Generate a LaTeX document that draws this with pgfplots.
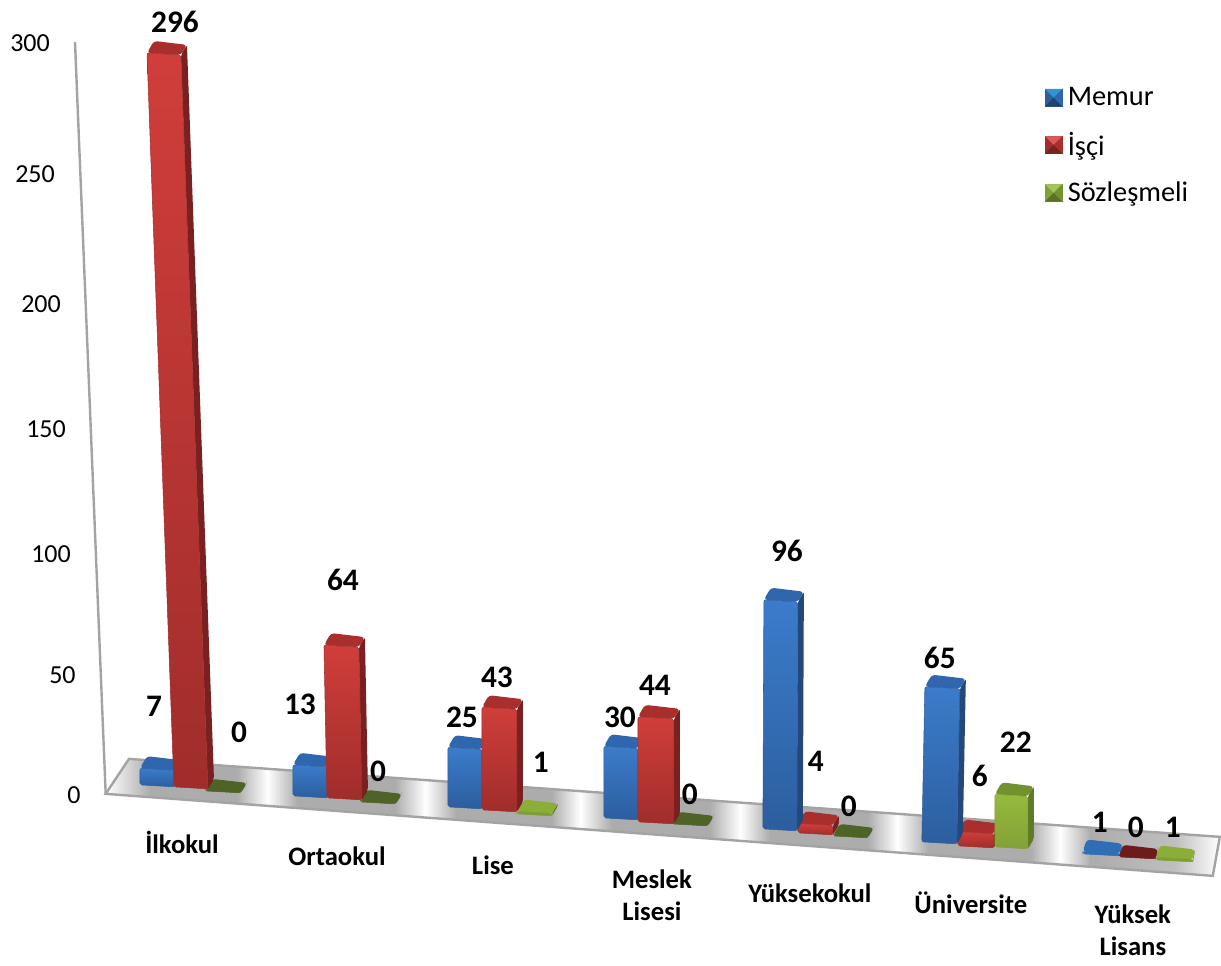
\documentclass[border=0pt]{standalone}
\usepackage{pgfplots}
\pgfplotsset{compat=1.18}
\usepackage{fontspec}
\setmainfont{Carlito}
% colours
\definecolor{bluetop}{HTML}{3B7CCB}\definecolor{bluebot}{HTML}{2C5E9E}\definecolor{blueside}{HTML}{24487A}\definecolor{bluecap}{HTML}{2F66AE}
\definecolor{redtop}{HTML}{D03E3B}\definecolor{redbot}{HTML}{A02D2B}\definecolor{redside}{HTML}{782120}\definecolor{redcap}{HTML}{A92F2D}
\definecolor{greentop}{HTML}{96BA3E}\definecolor{greenbot}{HTML}{82A136}\definecolor{greenside}{HTML}{5F7A28}\definecolor{greencap}{HTML}{71922E}
\definecolor{fbluetop}{HTML}{2F6DB5}\definecolor{fbluebot}{HTML}{2F6DB5}\definecolor{fblueside}{HTML}{24487A}\definecolor{fbluecap}{HTML}{2F6DB5}
\definecolor{fgreentop}{HTML}{7E9E35}\definecolor{fgreenbot}{HTML}{7E9E35}\definecolor{fgreenside}{HTML}{5F7A28}\definecolor{fgreencap}{HTML}{8AAE38}
\definecolor{zgreentop}{HTML}{4F6228}\definecolor{zgreenbot}{HTML}{4F6228}\definecolor{zgreenside}{HTML}{4F6228}\definecolor{zgreencap}{HTML}{4F6228}
\definecolor{zredtop}{HTML}{6E1C1B}\definecolor{zredbot}{HTML}{6E1C1B}\definecolor{zredside}{HTML}{6E1C1B}\definecolor{zredcap}{HTML}{6E1C1B}
\definecolor{frame}{HTML}{A3A3A3}
\pgfdeclarehorizontalshading{floorshade}{100bp}{%
color(0bp)=(white); color(25bp)=(white); color(27bp)=(frame!90!white);
color(30.9bp)=(frame!90!white); color(32.26bp)=(white); color(33.6bp)=(frame!90!white);
color(38bp)=(frame!90!white); color(39.35bp)=(white); color(40.7bp)=(frame!90!white);
color(45bp)=(frame!90!white); color(46.3bp)=(white); color(47.7bp)=(frame!90!white);
color(52.1bp)=(frame!90!white); color(53.48bp)=(white); color(54.8bp)=(frame!90!white);
color(59.2bp)=(frame!90!white); color(60.52bp)=(white); color(61.9bp)=(frame!90!white);
color(66.5bp)=(frame!90!white); color(67.83bp)=(white); color(69.2bp)=(frame!90!white);
color(73bp)=(frame!70!white); color(75bp)=(white); color(100bp)=(white)}
% x1 x2 = bottom of the front face, #3 = floor height in pixels, #4 = value, #5 = lean, #6 = perspective scale, #7 = colour
\def\dlx{7}\def\drx{6}
\newcommand\tdbar[7]{%
 \pgfmathsetmacro\yb{(795-#3)/2.5}%
 \pgfmathsetmacro\ybr{\yb-0.8}%
 \pgfmathsetmacro\yt{\yb+#4*#6}%
 \pgfmathsetmacro\ytr{\yt-0.8}%
 \pgfmathsetmacro\xtl{#1+#5}%
 \pgfmathsetmacro\xtr{#2+#5}%
 \pgfmathsetmacro\xbs{#2+\drx}%
 \pgfmathsetmacro\xts{\xtr+\drx}%
 \pgfmathsetmacro\xtb{\xtl+\dlx}%
 \pgfmathsetmacro\ybs{\ybr+4}%
 \pgfmathsetmacro\yts{\ytr+4}%
 \pgfmathsetmacro\ytb{\yt+4.8}%
 \addplot[forget plot,draw=none,fill=#7side,rounded corners=1.5pt] coordinates {(#2,\ybr)(\xbs,\ybs)(\xts,\yts)(\xtr,\ytr)} --cycle;
 \addplot[forget plot,draw=none,fill=#7cap,rounded corners=2.5pt] coordinates {(\xtl,\yt)(\xtr,\ytr)(\xts,\yts)(\xtb,\ytb)} --cycle;
 \addplot[forget plot,draw=#7bot,line width=0.4pt,top color=#7top,bottom color=#7bot,rounded corners=1.5pt] coordinates {(#1,\yb)(#2,\ybr)(\xtr,\ytr)(\xtl,\yt)} --cycle;
}
\newcommand\vl[3]{\node[font=\fontsize{23.5}{27}\selectfont\bfseries,anchor=center,inner sep=0pt] at (axis cs:#1,{(795-#2)/2.5}) {#3};}
\newcommand\pyr[4]{%
 \fill[#1] (0pt,-6.4pt) rectangle (12.8pt,6.4pt);
 \fill[#2] (0pt,6.4pt) -- (12.8pt,6.4pt) -- (6.4pt,0pt) -- cycle;
 \fill[#3] (0pt,-6.4pt) -- (12.8pt,-6.4pt) -- (6.4pt,0pt) -- cycle;
 \fill[#4] (12.8pt,-6.4pt) -- (12.8pt,6.4pt) -- (6.4pt,0pt) -- cycle;
 \path (15.5pt,0pt);
}
\newcommand\xl[2]{\raisebox{#1}{#2}}
\begin{document}
\begin{tikzpicture}
\begin{axis}[
 scale only axis, width=915.75pt, height=719.25pt,
 xmin=0, xmax=1221, ymin=-65.6, ymax=318,
 clip=false,
 axis line style={draw=none}, tick style={draw=none}, major tick length=0pt,
 ytick={0,48,96.4,146.4,196.4,248.4,300.8},
 yticklabels={\hspace*{50.25pt}0,\hspace*{36.75pt}50,\hspace*{23.25pt}100,\hspace*{19.5pt}150,\hspace*{15.75pt}200,\hspace*{11.25pt}250,\hspace*{7.5pt}300},
 yticklabel style={anchor=west,inner sep=0pt,font=\fontsize{19.5}{23}\selectfont},
 xtick={182,337,493,652,810,971,1133},
 xticklabels={
  \xl{79pt}{İlkokul},
  \xl{70pt}{Ortaokul},
  \xl{63pt}{Lise},
  \xl{28.5pt}{\begin{tabular}[b]{@{}c@{}}Meslek\\Lisesi\end{tabular}},
  \xl{42pt}{Yüksekokul},
  \xl{33.75pt}{Üniversite},
  \xl{2.5pt}{\begin{tabular}[b]{@{}c@{}}Yüksek\\Lisans\end{tabular}}},
 xticklabel style={anchor=base,inner sep=0pt,font=\fontsize{20}{24}\selectfont\bfseries},
 legend style={at={(0.856,0.9104)},anchor=north west,draw=none,fill=none,inner sep=0pt,
   row sep=16.4pt,font=\fontsize{21.3}{24}\selectfont,
   nodes={inner sep=1pt}},
 legend cell align=left,
]
% floor
\addplot[forget plot,draw=frame,line width=1.8pt,shade,shading=floorshade] coordinates {(105.7,0.4)(129,14.4)(1220,-16.8)(1213,-32.4)} --cycle;
% wall edge
\addplot[forget plot,draw=frame,line width=1.8pt] coordinates {(75,301.2)(105.7,0.4)};
% İlkokul
\tdbar{140}{175}{785}{7}{0}{0.955}{blue}
\tdbar{205}{241}{791}{0}{0}{0.955}{zgreen}
\tdbar{174}{208}{787}{296}{-27}{0.992}{red}
% Ortaokul
\tdbar{293}{328}{796}{13}{0}{0.955}{blue}
\tdbar{360}{396}{802}{0}{0}{0.955}{zgreen}
\tdbar{327}{362}{798}{64}{-3}{0.955}{red}
% Lise
\tdbar{448}{482}{807}{25}{0}{0.955}{blue}
\tdbar{517}{552}{814}{1}{0}{0.955}{fgreen}
\tdbar{482}{517}{810}{43}{0}{0.955}{red}
% Meslek Lisesi
\tdbar{604}{638}{818}{30}{0}{0.955}{blue}
\tdbar{672}{708}{824}{0}{0}{0.955}{zgreen}
\tdbar{638}{674}{822}{44}{0}{0.955}{red}
% Yüksekokul
\tdbar{833}{868}{836}{0}{0}{0.955}{zgreen}
\tdbar{798}{833}{833}{4}{0}{0.955}{red}
\tdbar{763}{797}{829}{96}{1}{0.955}{blue}
% Üniversite
\tdbar{958}{994}{846}{6}{0}{0.955}{red}
\tdbar{922}{957}{842}{65}{3}{0.955}{blue}
\tdbar{995}{1028}{847}{22}{0}{0.955}{green}
% Yüksek Lisans
\def\dlx{4}\def\drx{2}
\tdbar{1083}{1120}{854}{1}{0}{0.955}{fblue}
\tdbar{1156}{1193}{860}{1}{0}{0.955}{fgreen}
\tdbar{1119}{1156}{857}{0}{0}{0.955}{zred}
% legend
\addlegendimage{legend image code/.code={\pyr{bluebot}{bluetop!80!cyan}{bluebot!70!black}{bluecap}}}
\addlegendentry{Memur}
\addlegendimage{legend image code/.code={\pyr{redbot}{redtop!85!white}{redbot!75!black}{redcap}}}
\addlegendentry{İşçi}
\addlegendimage{legend image code/.code={\pyr{greenbot}{greentop!85!white}{greenbot!70!black}{greencap}}}
\addlegendentry{Sözleşmeli}
% value labels
\vl{175}{22}{296}\vl{154}{706}{7}\vl{239}{732}{0}
\vl{300}{704}{13}\vl{343}{580}{64}\vl{378}{771}{0}
\vl{462}{717}{25}\vl{497}{677}{43}\vl{541}{762}{1}
\vl{620}{717}{30}\vl{655}{685}{44}\vl{690}{794}{0}
\vl{787}{551}{96}\vl{816}{761}{4}\vl{849}{806}{0}
\vl{940}{658}{65}\vl{980}{776}{6}\vl{1016}{742}{22}
\vl{1100}{822}{1}\vl{1136}{827}{0}\vl{1173}{827}{1}
\end{axis}
\end{tikzpicture}
\end{document}
